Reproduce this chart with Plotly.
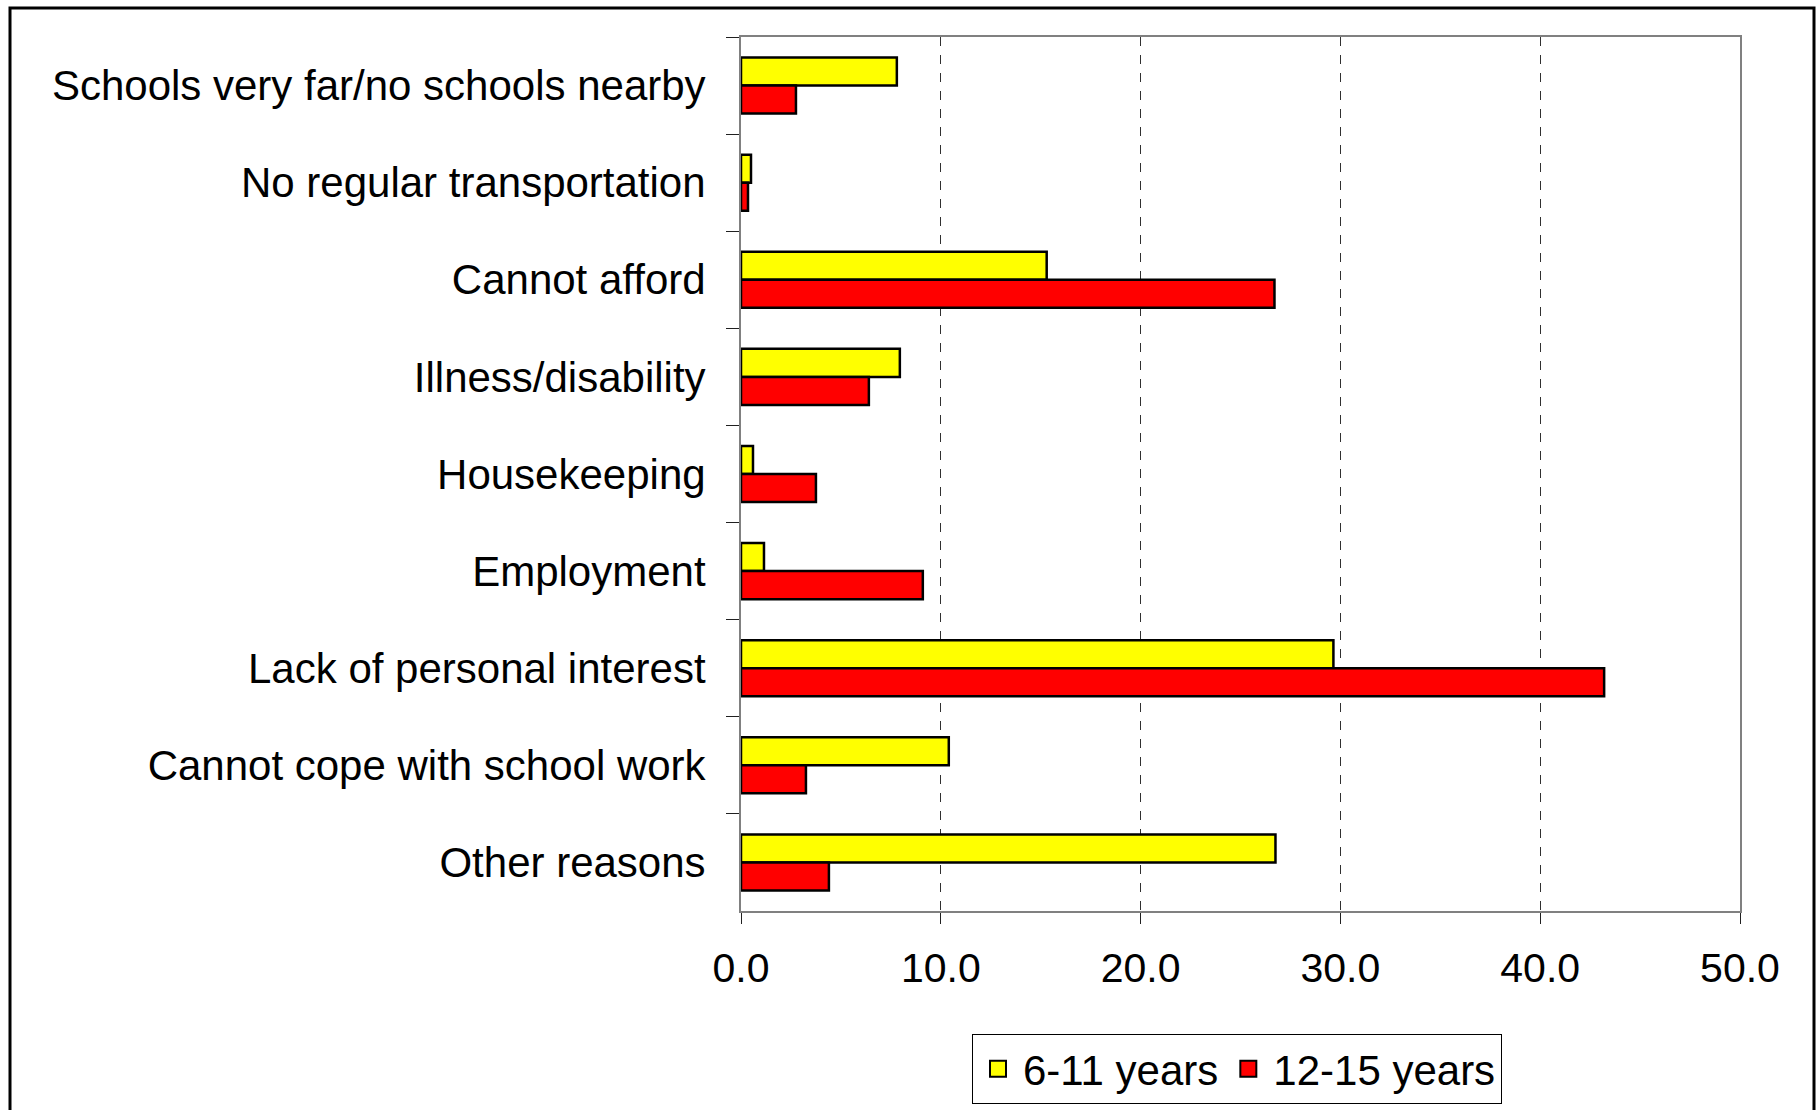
import plotly.graph_objects as go

categories = [
    "Schools very far/no schools nearby",
    "No regular transportation",
    "Cannot afford",
    "Illness/disability",
    "Housekeeping",
    "Employment",
    "Lack of personal interest",
    "Cannot cope with school work",
    "Other reasons",
]
series_names = ["6-11 years", "12-15 years"]
series_colors = ["#FFFF00", "#FF0000"]
values_6_11 = [7.8, 0.5, 15.3, 7.95, 0.6, 1.15, 29.65, 10.4, 26.75]
values_12_15 = [2.75, 0.35, 26.7, 6.4, 3.75, 9.1, 43.2, 3.25, 4.4]
x_ticks = [0, 10, 20, 30, 40, 50]

W, H = 1820, 1110
L, R, T, B = 741, W - 1740, 37, H - 911
pw, ph = W - L - R, H - T - B

FONT = "Liberation Sans, Arial, sans-serif"

fig = go.Figure()
for name, color, vals in zip(series_names, series_colors, [values_6_11, values_12_15]):
    fig.add_trace(go.Bar(
        y=categories, x=vals, name=name, orientation="h",
        marker=dict(color=color, line=dict(color="black", width=2.5)),
        showlegend=False, legendgroup=name,
    ))
# legend entries (larger square swatches)
for name, color in zip(series_names, series_colors):
    fig.add_trace(go.Scatter(
        x=[None], y=[None], mode="markers", name=name, legendgroup=name,
        marker=dict(symbol="square", size=16, color=color,
                    line=dict(color="black", width=2)),
        showlegend=True, hoverinfo="skip",
    ))

def px_to_paper_x(px):
    return (px - L) / pw

def px_to_paper_y(py):
    return (H - B - py) / ph

fig.update_layout(
    width=W, height=H,
    margin=dict(l=L, r=R, t=T, b=B, autoexpand=False),
    paper_bgcolor="white", plot_bgcolor="white",
    barmode="group", bargap=0.423, bargroupgap=0,
    font=dict(family=FONT, color="black", size=40),
    showlegend=True,
    legend=dict(
        orientation="h",
        x=px_to_paper_x(1237), xanchor="center",
        y=px_to_paper_y(1034), yanchor="top",
        bordercolor="black", borderwidth=1, bgcolor="white",
        font=dict(family=FONT, size=42, color="black"),
        traceorder="normal",
        itemsizing="trace",
        itemwidth=40,
    ),
    xaxis=dict(
        range=[0, 50], tickvals=x_ticks, tickformat=".1f",
        showgrid=True, gridcolor="#303030", griddash="dash", gridwidth=1,
        zeroline=False,
        showline=True, linecolor="#808080", linewidth=2, mirror=True,
        ticks="outside", ticklen=11, tickcolor="#202020", tickwidth=1,
        tickfont=dict(family=FONT, size=41, color="black"),
        ticklabelstandoff=9,
        fixedrange=True,
    ),
    yaxis=dict(
        autorange="reversed", type="category",
        showgrid=False, zeroline=False,
        showline=True, linecolor="#808080", linewidth=2, mirror=True,
        ticks="outside", ticklen=13, tickcolor="#202020", tickwidth=1,
        tickson="boundaries",
        tickfont=dict(family=FONT, size=42, color="black"),
        ticklabelstandoff=25,
        fixedrange=True,
    ),
    shapes=[
        dict(
            type="rect", xref="paper", yref="paper",
            x0=px_to_paper_x(10), x1=px_to_paper_x(1814),
            y0=px_to_paper_y(1130), y1=px_to_paper_y(8),
            line=dict(color="black", width=3), fillcolor="rgba(0,0,0,0)",
            layer="below",
        )
    ],
)

fig.write_html("out.html")
